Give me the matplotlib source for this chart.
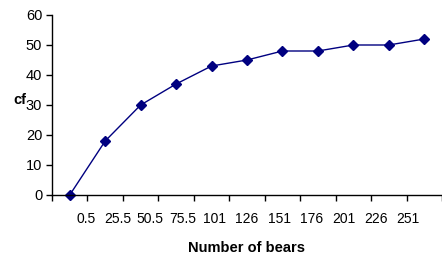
import numpy as np
import matplotlib.pyplot as plt

plt.rcParams['font.family'] = ['Liberation Sans', 'DejaVu Sans']

# data
bear_labels = ['0.5', '25.5', '50.5', '75.5', '101', '126', '151', '176', '201', '226', '251']
cf_values = [0, 18, 30, 37, 43, 45, 48, 48, 50, 50, 52]


def main():
    fig = plt.figure(figsize=(4.42, 2.58), dpi=100)
    ax = fig.add_axes([52 / 442, 63 / 258, 390 / 442, 180 / 258])

    x = np.arange(len(cf_values))
    ax.plot(x, cf_values, color='#000080', lw=1, marker='D', ms=5,
            markerfacecolor='#000080', markeredgecolor='#000080', clip_on=False)

    ax.set_xlim(-0.5, len(cf_values) - 0.5)
    ax.set_ylim(0, 60)
    ax.set_yticks(range(0, 61, 10))

    # category boundary tick marks
    ax.set_xticks(np.arange(-0.5, len(cf_values)), minor=True)
    ax.tick_params(axis='x', which='minor', length=4, direction='out', width=1)
    # labels sit slightly compressed, as in the reference
    ax.set_xticks(np.linspace(0.45, 9.55, len(bear_labels)))
    ax.set_xticklabels(bear_labels)
    ax.tick_params(axis='x', which='major', length=0, pad=12, labelsize=10)
    ax.tick_params(axis='y', length=4, direction='out', width=1, pad=3, labelsize=10.5)

    for s in ['top', 'right']:
        ax.spines[s].set_visible(False)
    for s in ['left', 'bottom']:
        ax.spines[s].set_linewidth(1)

    ax.set_ylabel('cf', fontweight='bold', fontsize=10.5, rotation=0)
    ax.yaxis.set_label_coords(-0.082, 0.49)
    ax.set_xlabel('Number of bears', fontweight='bold', fontsize=10.5)
    ax.xaxis.set_label_coords(0.5, -0.255)

    fig.savefig('out.png', dpi=100)
    plt.close(fig)


if __name__ == '__main__':
    main()
